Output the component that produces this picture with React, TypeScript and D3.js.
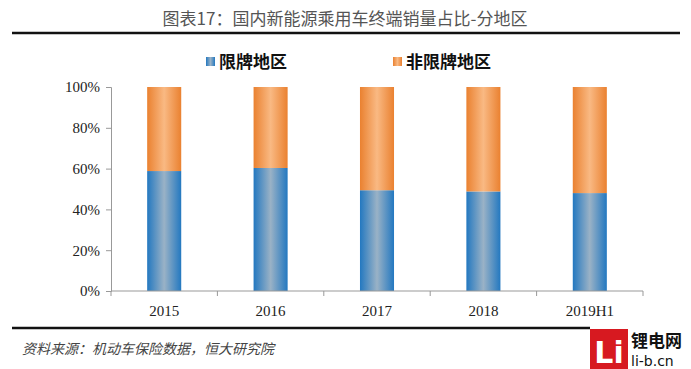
import React from "react";
import * as d3 from "d3";

const categories = ["2015", "2016", "2017", "2018", "2019H1"];
const limitedShare = [0.588, 0.603, 0.494, 0.488, 0.48];
const unlimitedShare = [0.412, 0.397, 0.506, 0.512, 0.52];
const seriesNames = ["限牌地区", "非限牌地区"];
const yTicks = [0, 0.2, 0.4, 0.6, 0.8, 1];

const App = () => {
  const svgRef = React.useRef<SVGSVGElement>(null);
  const width = 691;
  const height = 369;
  const plot = { left: 111, right: 643, top: 87, bottom: 291 };

  React.useEffect(() => {
    const svg = d3.select(svgRef.current);
    svg.selectAll("*").remove();

    // gradients for the cylinder-ish bars
    const defs = svg.append("defs");
    const grad = (id: string, edge: string, mid: string) => {
      const g = defs.append("linearGradient").attr("id", id).attr("x1", "0").attr("x2", "1").attr("y1", "0").attr("y2", "0");
      g.append("stop").attr("offset", "0%").attr("stop-color", edge);
      g.append("stop").attr("offset", "50%").attr("stop-color", mid);
      g.append("stop").attr("offset", "100%").attr("stop-color", edge);
    };
    grad("gBlue", "#2378c0", "#9ab2c6");
    grad("gOrange", "#ea8130", "#f9b983");

    // title
    svg.append("text")
      .attr("x", 345).attr("y", 25)
      .attr("text-anchor", "middle")
      .style("font-family", "'Noto Sans CJK SC', sans-serif")
      .style("font-size", "17px")
      .style("fill", "#555")
      .text("图表17：国内新能源乘用车终端销量占比-分地区");
    svg.append("line").attr("x1", 12).attr("x2", 680).attr("y1", 33).attr("y2", 33)
      .attr("stroke", "#111").attr("stroke-width", 2.5);

    // scales
    const x = d3.scaleBand().domain(categories).range([plot.left, plot.right]).paddingInner(0.68).paddingOuter(0.34);
    const y = d3.scaleLinear().domain([0, 1]).range([plot.bottom, plot.top]);

    // y axis
    const yAxis = svg.append("g")
      .attr("transform", `translate(${plot.left},0)`)
      .call(d3.axisLeft(y).tickValues(yTicks).tickFormat(d3.format(".0%")).tickSize(5).tickPadding(6));
    yAxis.select(".domain").attr("stroke", "#999");
    yAxis.selectAll(".tick line").attr("stroke", "#999");
    yAxis.selectAll(".tick text")
      .style("font-family", "'Liberation Serif', serif")
      .style("font-size", "15px")
      .style("fill", "#222");

    // stacked bars
    const bars = svg.append("g");
    categories.forEach((c, i) => {
      bars.append("rect")
        .attr("x", x(c)!).attr("width", x.bandwidth())
        .attr("y", y(limitedShare[i])).attr("height", y(0) - y(limitedShare[i]))
        .attr("fill", "url(#gBlue)");
      bars.append("rect")
        .attr("x", x(c)!).attr("width", x.bandwidth())
        .attr("y", y(limitedShare[i] + unlimitedShare[i])).attr("height", y(limitedShare[i]) - y(limitedShare[i] + unlimitedShare[i]))
        .attr("fill", "url(#gOrange)");
    });

    // x axis with boundary ticks
    const step = (plot.right - plot.left) / categories.length;
    const xg = svg.append("g");
    xg.append("line").attr("x1", plot.left).attr("x2", plot.right).attr("y1", plot.bottom).attr("y2", plot.bottom)
      .attr("stroke", "#999");
    d3.range(categories.length + 1).forEach((k) => {
      xg.append("line")
        .attr("x1", plot.left + k * step).attr("x2", plot.left + k * step)
        .attr("y1", plot.bottom).attr("y2", plot.bottom + 5)
        .attr("stroke", "#999");
    });
    xg.selectAll("text.cat").data(categories).enter().append("text")
      .attr("class", "cat")
      .attr("x", (d) => x(d)! + x.bandwidth() / 2)
      .attr("y", 316)
      .attr("text-anchor", "middle")
      .style("font-family", "'Liberation Serif', serif")
      .style("font-size", "15px")
      .style("fill", "#222")
      .text((d) => d);

    // legend
    const legend = [
      { name: seriesNames[0], fill: "url(#gBlue)", x: 206 },
      { name: seriesNames[1], fill: "url(#gOrange)", x: 393 },
    ];
    legend.forEach((l) => {
      svg.append("rect").attr("x", l.x).attr("y", 57).attr("width", 9).attr("height", 9).attr("fill", l.fill);
      svg.append("text").attr("x", l.x + 13).attr("y", 68)
        .style("font-family", "'Noto Sans CJK SC', sans-serif")
        .style("font-size", "17px")
        .style("font-weight", "bold")
        .style("fill", "#111")
        .text(l.name);
    });

    // footer
    svg.append("line").attr("x1", 12).attr("x2", 590).attr("y1", 328).attr("y2", 328)
      .attr("stroke", "#111").attr("stroke-width", 2.5);
    svg.append("text").attr("x", 22).attr("y", 354)
      .style("font-family", "'Noto Sans CJK SC', sans-serif")
      .style("font-size", "14px")
      .style("font-style", "italic")
      .style("fill", "#444")
      .text("资料来源：机动车保险数据，恒大研究院");

    // watermark logo
    const logo = svg.append("g");
    logo.append("rect").attr("x", 590).attr("y", 329).attr("width", 38).attr("height", 40).attr("fill", "#d71920");
    logo.append("text").attr("x", 609).attr("y", 363).attr("text-anchor", "middle")
      .style("font-family", "'DejaVu Sans', sans-serif").style("font-size", "30px").style("font-weight", "bold")
      .style("fill", "#fff").text("Li");
    logo.append("text").attr("x", 631).attr("y", 347)
      .style("font-family", "'Noto Sans CJK SC', sans-serif").style("font-size", "17px").style("font-weight", "bold")
      .style("fill", "#111").text("锂电网");
    logo.append("text").attr("x", 631).attr("y", 366)
      .style("font-family", "'DejaVu Sans', sans-serif").style("font-size", "14px")
      .style("fill", "#111").text("li-b.cn");
  }, []);

  return (
    <svg ref={svgRef} width={width} height={height} style={{ position: "absolute", left: 0, top: 0, background: "#fff" }} />
  );
};

export default App;
